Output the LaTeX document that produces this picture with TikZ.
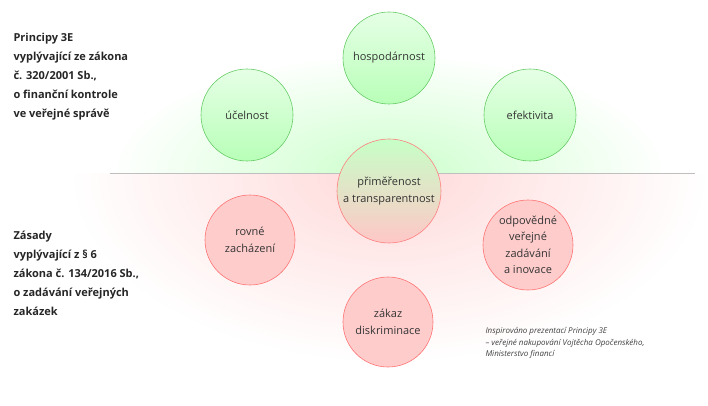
\documentclass[tikz,border=0pt]{standalone}
\usepackage{fontspec}
\setmainfont{Open Sans}
\begin{document}
\begin{tikzpicture}[x=1pt,y=-1pt,
  cf/.style={font=\fontsize{11}{16.5}\selectfont},
  gc/.style={cf,circle,draw=green!50!gray!80,line width=0.6pt,top color=white!90!green,bottom color=green!28!white,minimum size=92pt,inner sep=0pt,align=center,text=black!80},
  rc/.style={cf,circle,draw=red!55!white,line width=0.6pt,fill=red!20!white,minimum size=90pt,inner sep=0pt,align=center,text=black!80},
  lbl/.style={anchor=north west,align=left,font=\fontsize{11}{19}\selectfont\bfseries,text=black!85}]
\useasboundingbox (0,0) rectangle (708,406);
\begin{scope}
\clip (0,0) rectangle (708,173);
\shade[inner color=green!20!white,outer color=white] (389,173) ellipse (280 and 120);
\end{scope}
\begin{scope}
\clip (0,173) rectangle (708,406);
\shade[inner color=red!15!white,outer color=white] (389,173) ellipse (320 and 190);
\end{scope}
\draw[black!25,line width=0.5pt] (110,173) -- (695,173);
\node[gc] (h) at (389,58) {hospodárnost};
\node[gc] (u) at (247,115) {účelnost};
\node[gc] (e) at (530,115) {efektivita};
\node[cf,circle,draw=red!50!white,line width=0.6pt,top color=green!22!white,middle color=red!22!white,bottom color=red!22!white,minimum size=104pt,inner sep=0pt,align=center,text=black!80] (p) at (389,191) {přiměřenost\\a transparentnost};
\node[rc] (r) at (250,240) {rovné\\zacházení};
\node[rc] (o) at (528,245) {odpovědné\\veřejné\\zadávání\\a inovace};
\node[rc] (z) at (388,322) {zákaz\\diskriminace};
\node[lbl] (t1) at (10,30) {Principy 3E\\vyplývající ze zákona\\č. 320/2001 Sb.,\\o finanční kontrole\\ve veřejné správě};
\node[lbl] (t2) at (10,228) {Zásady\\vyplývající z § 6\\zákona č. 134/2016 Sb.,\\o zadávání veřejných\\zakázek};
\node[anchor=north west,align=left,font=\fontsize{8}{11.5}\selectfont\itshape,text=black!75] (n) at (482,324) {Inspirováno prezentací Principy 3E\\– veřejné nakupování Vojtěcha Opočenského,\\Ministerstvo financí};
\end{tikzpicture}
\end{document}
